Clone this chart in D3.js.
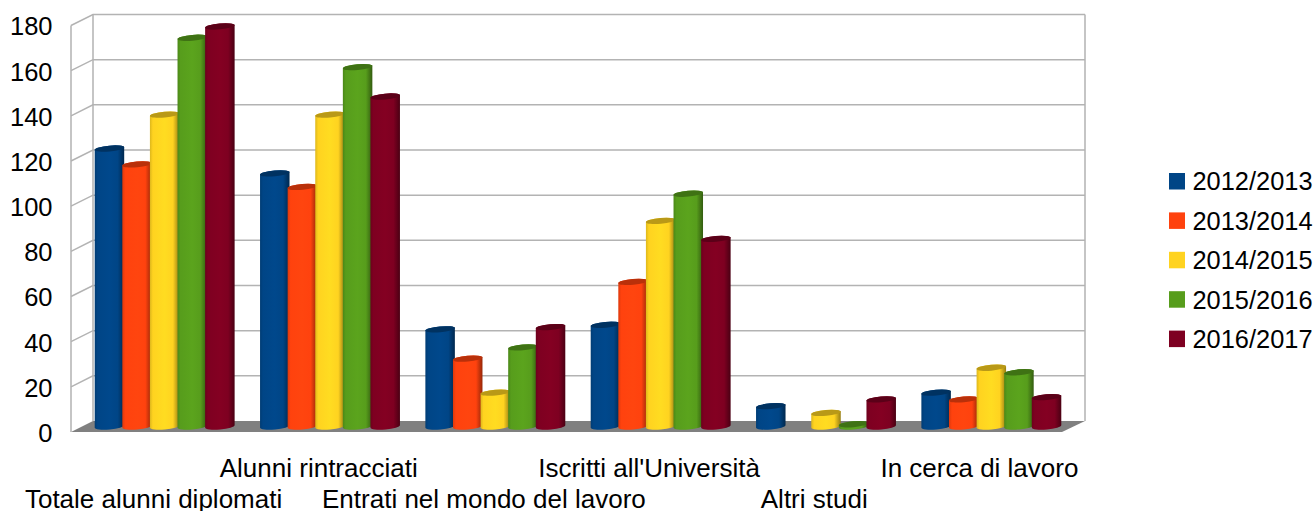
<!DOCTYPE html>
<html>
<head>
<meta charset="utf-8">
<script src="https://cdn.jsdelivr.net/npm/d3@7/dist/d3.min.js"></script>
<style>
  html, body { margin: 0; padding: 0; background: #fff; overflow: hidden; }
  text { font-family: "Liberation Sans", Arial, sans-serif; fill: #000; }
</style>
</head>
<body>
<svg id="chart" width="1316" height="511"></svg>
<script>
const categories = ["Totale alunni diplomati", "Alunni rintracciati", "Entrati nel mondo del lavoro",
  "Iscritti all'Università", "Altri studi", "In cerca di lavoro"];
const seriesNames = ["2012/2013", "2013/2014", "2014/2015", "2015/2016", "2016/2017"];
const seriesColors = ["#004586", "#ff420e", "#ffd320", "#579d1c", "#7e0021"];
const values2012 = [123, 112, 43, 45, 9, 15];
const values2013 = [116, 106, 30, 64, 0, 12];
const values2014 = [138, 138, 15, 91, 6, 26];
const values2015 = [172, 159, 35, 103, 1, 24];
const values2016 = [177, 146, 44, 83, 12, 13];
const seriesValues = [values2012, values2013, values2014, values2015, values2016];
const yTicks = [0, 20, 40, 60, 80, 100, 120, 140, 160, 180];

const svg = d3.select("#chart");
const defs = svg.append("defs");

// Box geometry: the back wall, and the depth offset toward the viewer.
const back = { left: 93, right: 1085, top: 14.5, bottom: 421 };
const depth = { dx: -22, dy: 11 };
const frontRight = 1062;
const wallColor = "#b3b3b3";

const yBack = d3.scaleLinear().domain([0, 180]).range([back.bottom, back.top]);
const yBar = d3.scaleLinear().domain([0, 180]).range([426.5, 19.7]);
const yFront = v => yBack(v) + depth.dy;

const xBar = d3.scaleBand().domain(categories).range([81, 1073])
  .paddingInner(27.3 / 165.33).paddingOuter(13.65 / 165.33);
const xSeries = d3.scaleBand().domain(seriesNames).range([0, xBar.bandwidth()]);
const xFront = d3.scaleBand().domain(categories).range([back.left + depth.dx, frontRight]);

// Floor
svg.append("polygon")
  .attr("points", [[back.left + depth.dx, back.bottom + depth.dy], [back.left, back.bottom],
    [back.right, back.bottom], [frontRight, back.bottom + depth.dy]].join(" "))
  .attr("fill", "#808080");

// Gridlines on the back and side walls
const grid = svg.append("g").attr("fill", "none").attr("stroke", wallColor).attr("stroke-width", 1.5);
yTicks.filter(t => t > 0).forEach(t => {
  grid.append("path").attr("d",
    `M${back.left + depth.dx},${yFront(t)}L${back.left},${yBack(t)}L${back.right},${yBack(t)}`);
});
grid.append("path").attr("d",
  `M${back.left},${back.top}V${back.bottom}M${back.right},${back.top}V${back.bottom}` +
  `M${back.left + depth.dx},${yFront(180)}V${back.bottom + depth.dy}`);

// Y axis labels
svg.append("g").selectAll("text").data(yTicks).join("text")
  .attr("x", 52.5).attr("y", d => yFront(d) + 1).attr("dy", "0.35em")
  .attr("text-anchor", "end").attr("font-size", 25.5).text(d => d);

// Horizontal shading across each cylinder
seriesColors.forEach((c, i) => {
  const g = defs.append("linearGradient").attr("id", `cyl${i}`)
    .attr("x1", 0).attr("x2", 1).attr("y1", 0).attr("y2", 0);
  const col = d3.rgb(c);
  [[0, col.darker(0.4)], [0.1, col], [0.5, col.brighter(0.12)], [0.78, col], [1, col.darker(1.5)]]
    .forEach(([o, k]) => g.append("stop").attr("offset", o).attr("stop-color", k));
});

const rx = 14.8, ry = 2.9, tiltDeg = -5;
const tilt = tiltDeg * Math.PI / 180;
const ax = rx * Math.cos(tilt), ay = rx * Math.sin(tilt);

function cylinder(cx, top, base) {
  return `M${cx - ax},${top - ay}L${cx - ax},${base - ay}` +
    `A${rx},${ry} ${tiltDeg} 0 0 ${cx + ax},${base + ay}` +
    `L${cx + ax},${top + ay}` +
    `A${rx},${ry} ${tiltDeg} 0 0 ${cx - ax},${top - ay}Z`;
}
function capEllipse(cx, top) {
  return `M${cx - ax},${top - ay}A${rx},${ry} ${tiltDeg} 1 1 ${cx + ax},${top + ay}` +
    `A${rx},${ry} ${tiltDeg} 1 1 ${cx - ax},${top - ay}Z`;
}

// Cylinders, one series after another so later ones overlap earlier ones
const bars = svg.append("g");
categories.forEach((cat, ci) => {
  seriesNames.forEach((s, si) => {
    const v = seriesValues[si][ci];
    if (!v) return;
    const cx = xBar(cat) + xSeries(s) + xSeries.bandwidth() / 2 + 1;
    bars.append("path").attr("d", cylinder(cx, yBar(v), yBar(0))).attr("fill", `url(#cyl${si})`);
    bars.append("path").attr("d", capEllipse(cx, yBar(v)))
      .attr("fill", d3.rgb(seriesColors[si]).darker(0.9));
  });
});

// Category labels, staggered over two rows
svg.append("g").selectAll("text").data(categories).join("text")
  .attr("x", d => xFront(d) + xFront.bandwidth() / 2)
  .attr("y", (d, i) => i % 2 ? 477 : 508)
  .attr("text-anchor", "middle").attr("font-size", 26).text(d => d);

// Legend
const legend = svg.append("g").selectAll("g").data(seriesNames).join("g")
  .attr("transform", (d, i) => `translate(1169,${173 + i * 39.4})`);
legend.append("rect").attr("width", 16).attr("height", 16.5).attr("fill", (d, i) => seriesColors[i]);
legend.append("text").attr("x", 23.5).attr("y", 8.5).attr("dy", "0.35em")
  .attr("font-size", 25.4).text(d => d);
</script>
</body>
</html>
